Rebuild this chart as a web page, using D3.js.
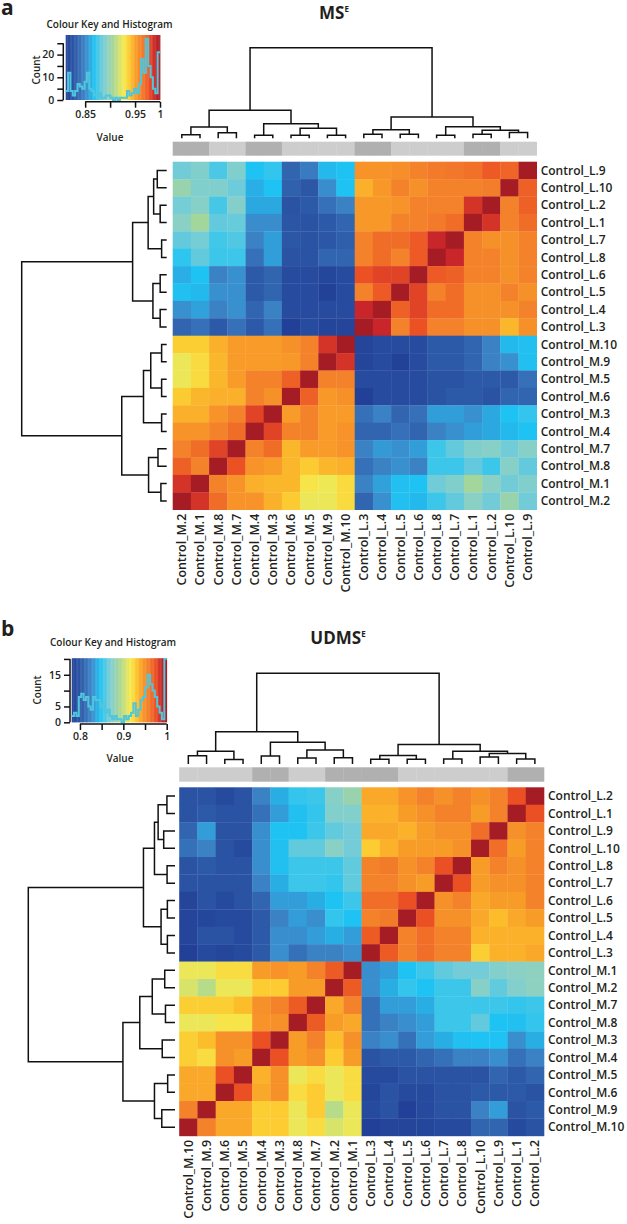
<!DOCTYPE html>
<html>
<head>
<meta charset="utf-8">
<script src="https://cdnjs.cloudflare.com/ajax/libs/d3/7.8.5/d3.min.js"></script>
<style>
  body { margin: 0; background: #fff; }
  svg text { font-family: "Open Sans", "Noto Sans", sans-serif; fill: #231f20; }
</style>
</head>
<body>
<script>
// ---------- data: panel a (MS^E) ----------
const colLabelsA = ["Control_M.2","Control_M.1","Control_M.8","Control_M.7","Control_M.4","Control_M.3","Control_M.6","Control_M.5","Control_M.9","Control_M.10",
  "Control_L.3","Control_L.4","Control_L.5","Control_L.6","Control_L.8","Control_L.7","Control_L.1","Control_L.2","Control_L.10","Control_L.9"];
const rowLabelsA = ["Control_L.9","Control_L.10","Control_L.2","Control_L.1","Control_L.7","Control_L.8","Control_L.6","Control_L.5","Control_L.4","Control_L.3",
  "Control_M.10","Control_M.9","Control_M.5","Control_M.6","Control_M.3","Control_M.4","Control_M.7","Control_M.8","Control_M.1","Control_M.2"];
const valuesA = [
  [0.885,0.89,0.877,0.89,0.868,0.872,0.835,0.845,0.865,0.868,0.955,0.955,0.957,0.962,0.965,0.966,0.968,0.975,0.972,1],
  [0.9,0.89,0.89,0.884,0.862,0.868,0.833,0.828,0.852,0.868,0.946,0.953,0.962,0.956,0.962,0.962,0.962,0.964,1,0.973],
  [0.886,0.892,0.876,0.891,0.86,0.86,0.825,0.83,0.84,0.848,0.953,0.953,0.955,0.962,0.962,0.962,0.986,1,0.962,0.973],
  [0.893,0.905,0.882,0.883,0.852,0.852,0.827,0.825,0.83,0.835,0.953,0.953,0.962,0.962,0.965,0.969,1,0.986,0.962,0.969],
  [0.882,0.886,0.875,0.878,0.848,0.857,0.828,0.825,0.828,0.832,0.962,0.969,0.969,0.975,0.99,1,0.962,0.956,0.956,0.962],
  [0.871,0.882,0.874,0.874,0.84,0.857,0.825,0.825,0.835,0.835,0.962,0.969,0.962,0.975,1,0.99,0.962,0.962,0.956,0.962],
  [0.862,0.868,0.848,0.853,0.83,0.835,0.82,0.82,0.816,0.82,0.978,0.982,0.982,1,0.975,0.973,0.962,0.962,0.956,0.962],
  [0.867,0.865,0.853,0.853,0.83,0.835,0.82,0.82,0.813,0.82,0.962,0.975,1,0.982,0.962,0.969,0.956,0.956,0.962,0.956],
  [0.853,0.858,0.848,0.853,0.835,0.848,0.82,0.82,0.82,0.82,0.99,1,0.973,0.982,0.969,0.969,0.956,0.956,0.956,0.962],
  [0.835,0.84,0.83,0.84,0.83,0.84,0.812,0.82,0.815,0.815,1,0.99,0.962,0.978,0.962,0.962,0.956,0.956,0.944,0.956],
  [0.937,0.937,0.946,0.952,0.952,0.952,0.956,0.962,0.986,1,0.815,0.82,0.82,0.82,0.83,0.83,0.835,0.848,0.865,0.867],
  [0.925,0.933,0.944,0.952,0.952,0.952,0.953,0.962,1,0.986,0.815,0.82,0.813,0.82,0.83,0.83,0.835,0.848,0.853,0.867],
  [0.925,0.933,0.944,0.952,0.962,0.962,0.973,1,0.962,0.962,0.82,0.82,0.82,0.82,0.825,0.825,0.83,0.83,0.83,0.84],
  [0.938,0.944,0.946,0.946,0.962,0.956,1,0.973,0.953,0.956,0.812,0.82,0.82,0.82,0.825,0.83,0.83,0.825,0.835,0.835],
  [0.946,0.946,0.955,0.962,0.982,1,0.952,0.962,0.952,0.952,0.84,0.848,0.835,0.84,0.857,0.857,0.853,0.86,0.868,0.872],
  [0.955,0.955,0.962,0.969,1,0.982,0.962,0.962,0.952,0.955,0.835,0.835,0.84,0.835,0.848,0.853,0.857,0.86,0.865,0.868],
  [0.962,0.969,0.982,1,0.962,0.969,0.944,0.952,0.952,0.955,0.848,0.856,0.853,0.857,0.874,0.882,0.89,0.892,0.885,0.892],
  [0.973,0.962,1,0.978,0.955,0.952,0.944,0.938,0.944,0.946,0.84,0.848,0.853,0.848,0.874,0.874,0.882,0.874,0.892,0.882],
  [0.986,1,0.962,0.955,0.946,0.944,0.944,0.93,0.926,0.933,0.848,0.858,0.867,0.868,0.885,0.89,0.905,0.893,0.885,0.89],
  [1,0.986,0.969,0.955,0.955,0.946,0.938,0.925,0.925,0.933,0.835,0.853,0.867,0.865,0.874,0.882,0.893,0.885,0.9,0.885]
];
// merges like hclust: negative = leaf (column position, 1-based), positive = earlier merge
const treeA = [[-1,-2,0.04],[-3,-4,0.06],[1,2,0.125],[-5,-6,0.035],[-7,-8,0.035],[-9,-10,0.035],[5,6,0.11],[4,7,0.16],[3,8,0.31],
  [-11,-12,0.045],[-13,-14,0.045],[10,11,0.095],[-15,-16,0.035],[-17,-18,0.045],[-19,-20,0.065],[14,15,0.09],[13,16,0.128],[12,17,0.235],[9,18,1]];
const keyRangeA = [0.811, 1.0];
const histA = [4,12,4,2,4,7,6,5,8,12,5,4,2,2,3,1,1,2,2,1,0,1,0,1,1,1,4,2,3,5,3,7,18,12,27,15,10,5,3,21];
const xTicksA = [0.85, 0.9, 0.95, 1], xTickLabelsA = ["0.85", "", "0.95", "1"];
const yTicksA = [0, 5, 10, 15, 20, 25], yTickLabelsA = ["0", "", "10", "", "20", ""];

// ---------- data: panel b (UDMS^E) ----------
const colLabelsB = ["Control_M.10","Control_M.9","Control_M.6","Control_M.5","Control_M.4","Control_M.3","Control_M.8","Control_M.7","Control_M.2","Control_M.1",
  "Control_L.3","Control_L.4","Control_L.5","Control_L.6","Control_L.7","Control_L.8","Control_L.10","Control_L.9","Control_L.1","Control_L.2"];
const rowLabelsB = ["Control_L.2","Control_L.1","Control_L.9","Control_L.10","Control_L.8","Control_L.7","Control_L.6","Control_L.5","Control_L.4","Control_L.3",
  "Control_M.1","Control_M.2","Control_M.7","Control_M.8","Control_M.3","Control_M.4","Control_M.5","Control_M.6","Control_M.9","Control_M.10"];
const valuesB = [
  [0.797,0.797,0.791,0.797,0.824,0.840,0.852,0.854,0.875,0.884,0.94,0.94,0.948,0.956,0.949,0.956,0.949,0.956,0.975,1],
  [0.797,0.803,0.797,0.797,0.815,0.834,0.846,0.852,0.873,0.873,0.937,0.937,0.944,0.949,0.956,0.956,0.944,0.956,1,0.975],
  [0.809,0.834,0.797,0.797,0.829,0.847,0.847,0.854,0.863,0.867,0.94,0.94,0.937,0.944,0.949,0.949,0.964,1,0.949,0.956],
  [0.815,0.824,0.797,0.791,0.829,0.846,0.863,0.863,0.876,0.867,0.928,0.937,0.944,0.944,0.944,0.949,1,0.964,0.944,0.956],
  [0.797,0.803,0.797,0.797,0.829,0.846,0.854,0.854,0.854,0.863,0.956,0.959,0.949,0.956,0.975,1,0.944,0.956,0.949,0.956],
  [0.797,0.797,0.797,0.797,0.824,0.840,0.854,0.854,0.852,0.863,0.956,0.956,0.949,0.944,1,0.975,0.944,0.949,0.949,0.956],
  [0.786,0.797,0.791,0.797,0.809,0.834,0.834,0.840,0.847,0.854,0.964,0.964,0.975,1,0.949,0.956,0.94,0.944,0.944,0.956],
  [0.786,0.787,0.791,0.791,0.803,0.824,0.834,0.829,0.852,0.847,0.956,0.959,1,0.975,0.949,0.949,0.94,0.933,0.94,0.944],
  [0.786,0.797,0.797,0.791,0.803,0.829,0.829,0.834,0.840,0.834,0.971,1,0.956,0.964,0.956,0.956,0.937,0.937,0.937,0.937],
  [0.782,0.791,0.787,0.791,0.803,0.829,0.815,0.824,0.824,0.829,1,0.971,0.956,0.964,0.956,0.956,0.927,0.937,0.937,0.94],
  [0.913,0.913,0.922,0.922,0.944,0.948,0.944,0.956,0.971,1,0.829,0.834,0.847,0.854,0.863,0.867,0.867,0.873,0.876,0.878],
  [0.907,0.896,0.913,0.913,0.928,0.928,0.944,0.944,1,0.971,0.829,0.840,0.852,0.847,0.854,0.854,0.875,0.863,0.873,0.878],
  [0.927,0.927,0.927,0.933,0.949,0.956,0.971,1,0.94,0.956,0.815,0.834,0.834,0.840,0.854,0.854,0.854,0.854,0.852,0.854],
  [0.913,0.913,0.919,0.919,0.948,0.949,1,0.971,0.944,0.94,0.815,0.824,0.829,0.834,0.854,0.854,0.863,0.847,0.846,0.852],
  [0.927,0.933,0.949,0.949,0.975,1,0.944,0.956,0.933,0.949,0.824,0.829,0.815,0.834,0.840,0.846,0.847,0.847,0.829,0.840],
  [0.927,0.922,0.949,0.944,1,0.975,0.944,0.949,0.928,0.944,0.797,0.803,0.803,0.809,0.815,0.824,0.824,0.829,0.815,0.824],
  [0.94,0.94,0.975,1,0.937,0.949,0.913,0.922,0.913,0.922,0.791,0.791,0.797,0.797,0.797,0.797,0.797,0.809,0.803,0.809],
  [0.94,0.94,1,0.975,0.94,0.949,0.922,0.928,0.913,0.922,0.787,0.797,0.791,0.791,0.797,0.797,0.803,0.803,0.803,0.797],
  [0.956,1,0.94,0.94,0.927,0.928,0.913,0.928,0.896,0.913,0.791,0.797,0.782,0.791,0.797,0.797,0.824,0.834,0.797,0.803],
  [1,0.956,0.94,0.94,0.927,0.928,0.913,0.922,0.907,0.913,0.782,0.786,0.786,0.787,0.791,0.791,0.809,0.809,0.791,0.797]
];
const treeB = [[-1,-2,0.09],[-3,-4,0.05],[1,2,0.14],[-5,-6,0.087],[-7,-8,0.065],[-9,-10,0.07],[5,6,0.155],[4,7,0.24],[3,8,0.355],
  [-11,-12,0.052],[-13,-14,0.052],[10,11,0.095],[-15,-16,0.054],[-17,-18,0.077],[-19,-20,0.055],[14,15,0.115],[13,16,0.14],[12,17,0.215],[9,18,1]];
const keyRangeB = [0.781, 1.0];
const histB = [2,3,2,8,9,7,8,5,4,8,7,7,5,6,3,4,2,1,2,1,1,0,2,1,2,3,6,2,4,7,8,11,15,12,10,8,5,3,1,20];
const xTicksB = [0.8, 0.85, 0.9, 0.95, 1], xTickLabelsB = ["0.8", "", "0.9", "", "1"];
const yTicksB = [0, 5, 10, 15, 20], yTickLabelsB = ["0", "5", "", "15", ""];

// samples in the darker side-colour group
const darkSide = ["Control_M.1","Control_M.2","Control_M.3","Control_M.4","Control_L.1","Control_L.2","Control_L.3","Control_L.4"];

// colour palette (position along key 0..1)
const palPos = [0, 0.1005, 0.2063, 0.3016, 0.3915, 0.4444, 0.4974, 0.619, 0.6825, 0.746, 0.8148, 0.8836, 0.947, 1];
const palCol = ["#213f96","#2d5aa8","#3d86c8","#1fc3f3","#72ccd8","#90d1c0","#a3d69a","#f6ea4e","#fdc52c","#f89b28","#f27a2a","#ec5124","#c8262a","#a51c24"];

const svg = d3.select("body").append("svg").attr("width", 627).attr("height", 1224);

function panel(cfg) {
  const g = svg.append("g");
  const [vmin, vmax] = cfg.range;
  const color = d3.scaleLinear()
    .domain(palPos.map(t => vmin + t * (vmax - vmin)))
    .range(palCol).clamp(true);

  const x = d3.scaleBand().domain(cfg.cols).range(cfg.heatX);
  const y = d3.scaleBand().domain(cfg.rows).range(cfg.heatY);

  // heatmap cells
  cfg.rows.forEach((r, i) => {
    g.selectAll(null).data(cfg.values[i]).enter().append("rect")
      .attr("x", (d, j) => x(cfg.cols[j]))
      .attr("y", y(r))
      .attr("width", x.bandwidth() + 0.3)
      .attr("height", y.bandwidth() + 0.3)
      .attr("fill", d => color(d));
  });

  // column side colours
  g.selectAll(null).data(cfg.cols).enter().append("rect")
    .attr("x", d => x(d)).attr("y", cfg.sideY[0])
    .attr("width", x.bandwidth() + 0.3).attr("height", cfg.sideY[1] - cfg.sideY[0])
    .attr("fill", d => darkSide.includes(d) ? "#b0b0b0" : "#cdcdcd");

  // row labels
  g.selectAll(null).data(cfg.rows).enter().append("text")
    .attr("x", cfg.heatX[1] + 4)
    .attr("y", d => y(d) + y.bandwidth() / 2)
    .attr("dy", "0.35em")
    .attr("font-size", 12).attr("font-weight", 600)
    .text(d => d);

  // column labels
  g.selectAll(null).data(cfg.cols).enter().append("text")
    .attr("transform", d => `translate(${x(d) + x.bandwidth() / 2},${cfg.heatY[1] + 4}) rotate(-90)`)
    .attr("text-anchor", "end").attr("dy", "0.35em")
    .attr("font-size", 12.4).attr("font-weight", 600)
    .text(d => d);

  // dendrograms (same tree for columns and rows)
  const colH = d3.scaleLinear().domain([0, 1]).range(cfg.colDendro);
  const rowH = d3.scaleLinear().domain([0, 1]).range(cfg.rowDendro);
  const line = d3.line();
  function dendro(posOf, hScale, vertical) {
    const nodes = [];
    const paths = [];
    cfg.tree.forEach(([a, b, h], i) => {
      const ca = a < 0 ? { p: posOf(cfg.cols[-a - 1]), h: 0 } : nodes[a - 1];
      const cb = b < 0 ? { p: posOf(cfg.cols[-b - 1]), h: 0 } : nodes[b - 1];
      nodes[i] = { p: (ca.p + cb.p) / 2, h: h };
      const pts = [[ca.p, ca.h], [ca.p, h], [cb.p, h], [cb.p, cb.h]]
        .map(([p, hh]) => vertical ? [p, hScale(hh)] : [hScale(hh), p]);
      paths.push(pts);
    });
    g.selectAll(null).data(paths).enter().append("path")
      .attr("d", line).attr("fill", "none")
      .attr("stroke", "#111").attr("stroke-width", 1.5);
  }
  dendro(c => x(c) + x.bandwidth() / 2, colH, true);
  dendro(c => y(c) + y.bandwidth() / 2, rowH, false);

  // colour key with histogram
  const kx = d3.scaleLinear().domain(cfg.range).range(cfg.keyX);
  const ky = d3.scaleLinear().domain([0, cfg.countMax]).range([cfg.keyY[1], cfg.keyY[0]]);
  const steps = d3.range(0, 120).map(i => vmin + (i + 0.5) * (vmax - vmin) / 120);
  const sw = (cfg.keyX[1] - cfg.keyX[0]) / 120;
  g.selectAll(null).data(steps).enter().append("rect")
    .attr("x", d => kx(d) - sw / 2).attr("y", cfg.keyY[0])
    .attr("width", sw + 0.4).attr("height", cfg.keyY[1] - cfg.keyY[0])
    .attr("fill", d => color(d));

  const bw = (vmax - vmin) / cfg.hist.length;
  const hpts = cfg.hist.map((c, i) => [kx(vmin + i * bw), ky(c)]);
  hpts.push([kx(vmax), ky(cfg.hist[cfg.hist.length - 1])]);
  g.append("path")
    .attr("d", d3.line().curve(d3.curveStepAfter)(hpts))
    .attr("fill", "none").attr("stroke", "#4fc6dc").attr("stroke-width", 2);

  // key axes
  const xa = g.append("g").attr("transform", `translate(0,${cfg.xAxisY})`)
    .call(d3.axisBottom(kx).tickValues(cfg.xTicks).tickSize(6).tickPadding(3)
      .tickFormat((d, i) => cfg.xTickLabels[i]));
  const ya = g.append("g").attr("transform", `translate(${cfg.yAxisX},0)`)
    .call(d3.axisLeft(ky).tickValues(cfg.yTicks).tickSize(6).tickPadding(3)
      .tickFormat((d, i) => cfg.yTickLabels[i]));
  [xa, ya].forEach(a => {
    a.select(".domain").attr("stroke", "#111").attr("stroke-width", 1.5);
    a.selectAll(".tick line").attr("stroke", "#111").attr("stroke-width", 1.5);
    a.selectAll("text").attr("font-size", 10.5).attr("font-weight", 600)
      .attr("font-family", '"Open Sans", sans-serif').attr("fill", "#231f20");
  });
  xa.select(".domain").attr("d", `M${kx(cfg.xTicks[0])},0H${kx(cfg.xTicks[cfg.xTicks.length - 1])}`);
  ya.select(".domain").attr("d", `M0,${ky(cfg.yTicks[0])}V${ky(cfg.yTicks[cfg.yTicks.length - 1])}`);

  g.append("text").attr("x", cfg.keyTitle[0]).attr("y", cfg.keyTitle[1])
    .attr("font-size", 10).attr("font-weight", 600).text("Colour Key and Histogram");
  g.append("text").attr("transform", `translate(${cfg.countLab[0]},${cfg.countLab[1]}) rotate(-90)`)
    .attr("text-anchor", "middle").attr("font-size", 10).attr("font-weight", 600).text("Count");
  g.append("text").attr("x", cfg.valueLab[0]).attr("y", cfg.valueLab[1])
    .attr("text-anchor", "middle").attr("font-size", 10).attr("font-weight", 600).text("Value");

  // title with superscript
  const t = g.append("text").attr("x", cfg.title[0]).attr("y", cfg.title[1])
    .attr("text-anchor", "middle").attr("font-size", 17).attr("font-weight", 700);
  t.append("tspan").text(cfg.titleText);
  t.append("tspan").attr("font-size", 8).attr("dy", -7).text("E");

  g.append("text").attr("x", 1).attr("y", cfg.letter[1])
    .attr("font-size", 21).attr("font-weight", 700).attr("fill", "#000").text(cfg.letter[0]);
}

panel({
  cols: colLabelsA, rows: rowLabelsA, values: valuesA, tree: treeA, range: keyRangeA, hist: histA,
  xTicks: xTicksA, xTickLabels: xTickLabelsA, yTicks: yTicksA, yTickLabels: yTickLabelsA,
  heatX: [172.7, 536.7], heatY: [161.7, 509.7], sideY: [141.7, 155.7],
  colDendro: [138.3, 47.7], rowDendro: [166.7, 21.7],
  keyX: [65.7, 160], keyY: [35, 100], countMax: 28.63, xAxisY: 101.7, yAxisX: 63.3,
  keyTitle: [46.5, 28], countLab: [40, 70], valueLab: [110, 141],
  title: [334, 19.3], titleText: "MS", letter: ["a", 15]
});

panel({
  cols: colLabelsB, rows: rowLabelsB, values: valuesB, tree: treeB, range: keyRangeB, hist: histB,
  xTicks: xTicksB, xTickLabels: xTickLabelsB, yTicks: yTicksB, yTickLabels: yTickLabelsB,
  heatX: [179.2, 544], heatY: [787.3, 1135.9], sideY: [767.3, 781.7],
  colDendro: [764, 673.3], rowDendro: [175, 28.3],
  keyX: [71.7, 166.7], keyY: [658.3, 722.3], countMax: 20.2, xAxisY: 724, yAxisX: 70,
  keyTitle: [50, 646], countLab: [41, 690], valueLab: [120, 762],
  title: [338, 644.3], titleText: "UDMS", letter: ["b", 636]
});
</script>
</body>
</html>
